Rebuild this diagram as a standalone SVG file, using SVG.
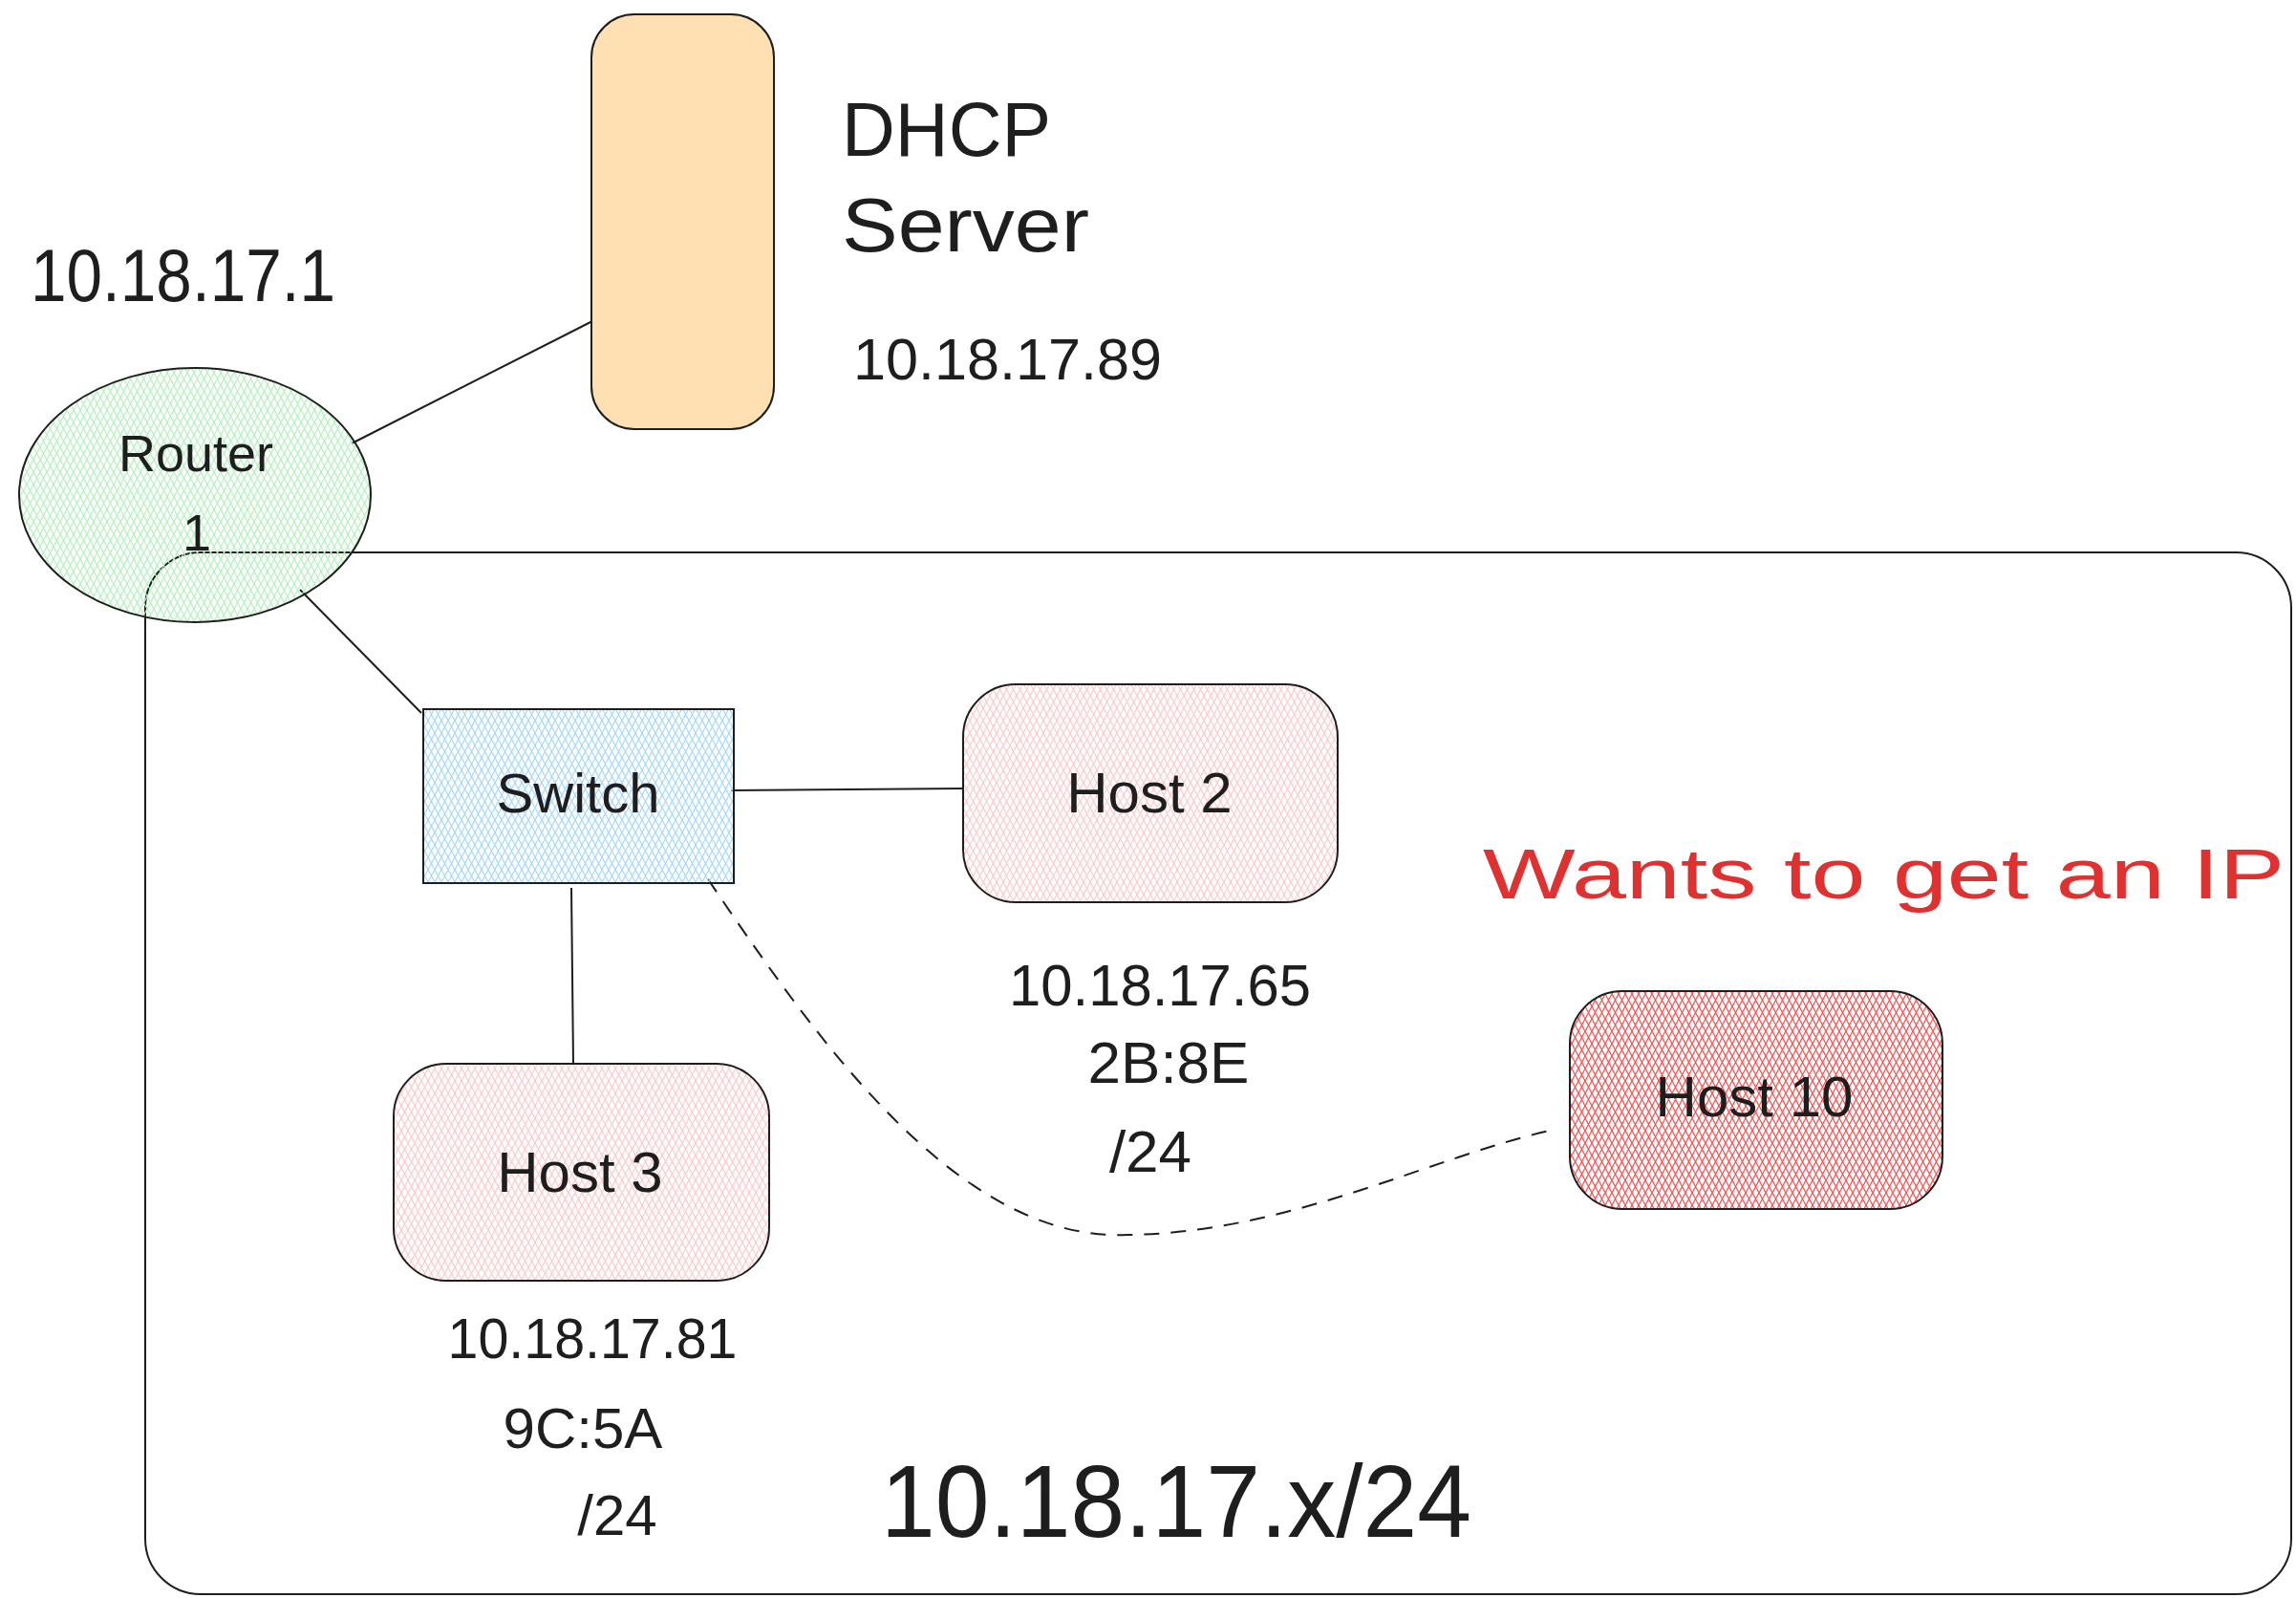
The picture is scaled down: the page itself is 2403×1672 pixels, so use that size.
<svg xmlns="http://www.w3.org/2000/svg" width="2403" height="1672" viewBox="0 0 2403 1672">
<defs>
<pattern id="hGreen" patternUnits="userSpaceOnUse" width="7" height="13"><path d="M0,0 L7,13 M7,0 L0,13" stroke="#b2f2bb" stroke-width="1.2" fill="none"/></pattern>
<pattern id="hBlue" patternUnits="userSpaceOnUse" width="7" height="13"><path d="M0,0 L7,13 M7,0 L0,13" stroke="#a5d8ff" stroke-width="1.2" fill="none"/></pattern>
<pattern id="hPink" patternUnits="userSpaceOnUse" width="7" height="13"><path d="M0,0 L7,13 M7,0 L0,13" stroke="#ffc9c9" stroke-width="1.2" fill="none"/></pattern>
<pattern id="hRed" patternUnits="userSpaceOnUse" width="7" height="13"><path d="M0,0 L7,13 M7,0 L0,13" stroke="#fa5252" stroke-width="1.3" fill="none"/></pattern>
<style>
.s{stroke:#1e1e1e;stroke-width:2;fill:none}
.t{font-family:"Liberation Sans","DejaVu Sans",sans-serif;fill:#1e1e1e}
.m{text-anchor:middle}
</style>
</defs>
<rect width="2403" height="1672" fill="#ffffff"/>
<g id="network">
<rect class="s" x="152" y="578" width="2246" height="1090" rx="58"/>
<text class="t" x="922" y="1608" font-size="108" textLength="618" lengthAdjust="spacingAndGlyphs">10.18.17.x/24</text>
</g>
<g id="connectors">
<line class="s" x1="368" y1="464" x2="626" y2="333"/>
<line class="s" x1="314" y1="617" x2="441" y2="746"/>
<line class="s" x1="765" y1="827" x2="1008" y2="825"/>
<line class="s" x1="598" y1="929" x2="600" y2="1113"/>
<path class="s" stroke-dasharray="16 12" d="M741 920 C850 1080 1000 1300 1180 1292 C1350 1290 1500 1210 1622 1183"/>
</g>
<g id="dhcp">
<rect x="619" y="15" width="191" height="434" rx="45" fill="#ffe0b2" stroke="#1e1e1e" stroke-width="2"/>
<text class="t" x="881" y="163" font-size="80" textLength="219" lengthAdjust="spacingAndGlyphs">DHCP</text>
<text class="t" x="881" y="263" font-size="80" textLength="259" lengthAdjust="spacingAndGlyphs">Server</text>
<text class="t" x="893" y="397" font-size="62" textLength="323" lengthAdjust="spacingAndGlyphs">10.18.17.89</text>
</g>
<g id="router">
<ellipse cx="204" cy="518" rx="184" ry="133" fill="url(#hGreen)" stroke="#1e1e1e" stroke-width="2"/>
<text class="t m" x="205" y="493" font-size="54">Router</text>
<text class="t m" x="206" y="576" font-size="54">1</text>
<text class="t" x="32" y="315" font-size="78" textLength="319" lengthAdjust="spacingAndGlyphs">10.18.17.1</text>
</g>
<g id="switch">
<rect x="443" y="742" width="325" height="182" fill="url(#hBlue)" stroke="#1e1e1e" stroke-width="2"/>
<text class="t m" x="605" y="850" font-size="58">Switch</text>
</g>
<g id="host2">
<rect x="1008" y="716" width="392" height="228" rx="55" fill="url(#hPink)" stroke="#1e1e1e" stroke-width="2"/>
<text class="t m" x="1203" y="850" font-size="60">Host 2</text>
<text class="t m" x="1214" y="1052" font-size="62" textLength="316" lengthAdjust="spacingAndGlyphs">10.18.17.65</text>
<text class="t m" x="1223" y="1133" font-size="62">2B:8E</text>
<text class="t m" x="1204" y="1226" font-size="62">/24</text>
</g>
<g id="host3">
<rect x="412" y="1113" width="393" height="227" rx="55" fill="url(#hPink)" stroke="#1e1e1e" stroke-width="2"/>
<text class="t m" x="607" y="1247" font-size="60">Host 3</text>
<text class="t m" x="620" y="1421" font-size="60" textLength="303" lengthAdjust="spacingAndGlyphs">10.18.17.81</text>
<text class="t m" x="610" y="1515" font-size="60">9C:5A</text>
<text class="t m" x="646" y="1606" font-size="60">/24</text>
</g>
<g id="host10">
<rect x="1643" y="1037" width="390" height="228" rx="55" fill="url(#hRed)" stroke="#1e1e1e" stroke-width="2"/>
<text class="t m" x="1836" y="1168" font-size="60">Host 10</text>
</g>
<g id="note">
<text class="t" x="1552" y="940" font-size="74" fill="#e03131" style="fill:#e03131" textLength="839" lengthAdjust="spacingAndGlyphs">Wants to get an IP</text>
</g>
</svg>
